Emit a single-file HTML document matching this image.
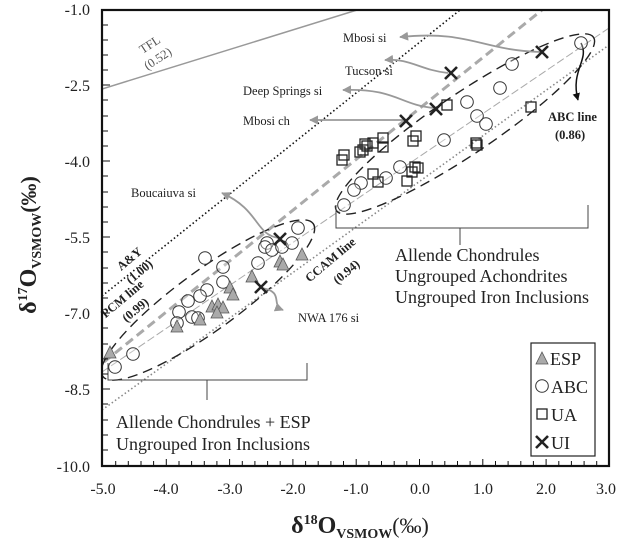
<!DOCTYPE html>
<html><head><meta charset="utf-8"><style>
html,body{margin:0;padding:0;background:#fff}
svg{display:block;font-family:"Liberation Serif",serif}
</style></head><body>
<svg width="625" height="548" viewBox="0 0 625 548" xmlns="http://www.w3.org/2000/svg">
<defs>
<marker id="ga" viewBox="0 0 10 10" refX="9" refY="5" markerWidth="5" markerHeight="5" orient="auto"><path d="M0,0L10,5L0,10z" fill="#999"/></marker>
<marker id="ba" viewBox="0 0 10 10" refX="9" refY="5" markerWidth="5" markerHeight="5" orient="auto"><path d="M0,0L10,5L0,10z" fill="#111"/></marker>
<clipPath id="c"><rect x="102" y="10" width="507" height="456"/></clipPath>
<g id="o"><circle r="6.3" fill="#fff" fill-opacity="0.3" stroke="#333" stroke-width="1"/></g>
<g id="s"><rect x="-5" y="-5" width="10" height="10" fill="none" stroke="#222" stroke-width="1.3"/></g>
<g id="t"><path d="M0,-7L6,5L-6,5z" fill="#aaa" stroke="#555" stroke-width="0.8"/></g>
<g id="x"><path d="M-6,-6L6,6M-6,6L6,-6" stroke="#222" stroke-width="2.6"/></g>
</defs>
<g clip-path="url(#c)">
<line x1="102" y1="89" x2="357" y2="10" stroke="#999" stroke-width="1.5"/>
<line x1="102" y1="296" x2="460" y2="10" stroke="#111" stroke-width="1.6" stroke-dasharray="1.5,2.5"/>
<line x1="104" y1="362" x2="542" y2="10" stroke="#aaa" stroke-width="3" stroke-dasharray="9,5"/>
<line x1="102" y1="372" x2="609" y2="28" stroke="#aaa" stroke-width="1" stroke-dasharray="8,3"/>
<line x1="102" y1="410" x2="609" y2="45" stroke="#888" stroke-width="1.6" stroke-dasharray="1.5,2.5"/>
<ellipse cx="465" cy="124" rx="155" ry="30" transform="rotate(-34 465 124)" fill="none" stroke="#222" stroke-width="1.4" stroke-dasharray="10,6"/>
<ellipse cx="208" cy="300" rx="130" ry="30" transform="rotate(-36 208 300)" fill="none" stroke="#222" stroke-width="1.4" stroke-dasharray="10,6"/>
</g>
<!-- brackets -->
<path d="M108,363 L108,380 L307,380 L307,363 M207,380 L207,400" fill="none" stroke="#444" stroke-width="1"/>
<path d="M336,205 L336,228 L588,228 L588,205 M460,228 L460,245" fill="none" stroke="#444" stroke-width="1"/>
<!-- annotation arrows -->
<g fill="none" stroke="#999" stroke-width="1.8">
<path d="M540,52 C480,50 470,30 400,37" marker-end="url(#ga)"/>
<path d="M448,73 C420,70 410,58 385,60" marker-end="url(#ga)"/>
<path d="M434,108 C400,105 395,88 343,90" marker-end="url(#ga)"/>
<path d="M404,120 L310,120" marker-end="url(#ga)"/>
<path d="M279,238 C255,235 260,210 222,193" marker-end="url(#ga)"/>
<path d="M262,288 C285,292 270,305 283,310" marker-end="url(#ga)"/>
</g>
<path d="M581,43 C590,60 570,70 578,100" fill="none" stroke="#111" stroke-width="1.5" marker-end="url(#ba)"/>
<!-- points lower -->
<g>
<use href="#o" x="298" y="228"/><use href="#o" x="267" y="243"/><use href="#o" x="265" y="247"/><use href="#o" x="272" y="250"/><use href="#o" x="282" y="247"/><use href="#o" x="292" y="243"/><use href="#o" x="258" y="263"/><use href="#o" x="223" y="267"/><use href="#o" x="205" y="258"/><use href="#o" x="223" y="282"/><use href="#o" x="207" y="290"/><use href="#o" x="200" y="296"/><use href="#o" x="188" y="301"/><use href="#o" x="179" y="312"/><use href="#o" x="192" y="317"/><use href="#o" x="198" y="318"/><use href="#o" x="177" y="323"/><use href="#o" x="133" y="354"/><use href="#o" x="115" y="367"/>
<use href="#t" x="110" y="353"/><use href="#t" x="177" y="327"/><use href="#t" x="200" y="320"/><use href="#t" x="212" y="307"/><use href="#t" x="218" y="305"/><use href="#t" x="223" y="308"/><use href="#t" x="217" y="313"/><use href="#t" x="230" y="288"/><use href="#t" x="233" y="295"/><use href="#t" x="252" y="277"/><use href="#t" x="280" y="262"/><use href="#t" x="283" y="265"/><use href="#t" x="302" y="255"/>
<use href="#x" x="280" y="239"/><use href="#x" x="261" y="287"/>
</g>
<!-- points upper -->
<g>
<use href="#o" x="581" y="43"/><use href="#o" x="512" y="64"/><use href="#o" x="500" y="88"/><use href="#o" x="467" y="102"/><use href="#o" x="477" y="116"/><use href="#o" x="486" y="124"/><use href="#o" x="444" y="140"/><use href="#o" x="400" y="167"/><use href="#o" x="386" y="178"/><use href="#o" x="361" y="183"/><use href="#o" x="354" y="190"/><use href="#o" x="344" y="205"/>
<use href="#s" x="447" y="105"/><use href="#s" x="531" y="107"/><use href="#s" x="416" y="136"/><use href="#s" x="413" y="141"/><use href="#s" x="476" y="143"/><use href="#s" x="477" y="145"/><use href="#s" x="383" y="138"/><use href="#s" x="383" y="147"/><use href="#s" x="373" y="143"/><use href="#s" x="367" y="146"/><use href="#s" x="363" y="150"/><use href="#s" x="360" y="152"/><use href="#s" x="365" y="144"/><use href="#s" x="344" y="155"/><use href="#s" x="342" y="160"/><use href="#s" x="415" y="167"/><use href="#s" x="418" y="168"/><use href="#s" x="412" y="172"/><use href="#s" x="373" y="174"/><use href="#s" x="378" y="182"/><use href="#s" x="407" y="181"/>
<use href="#x" x="542" y="52"/><use href="#x" x="451" y="73"/><use href="#x" x="436" y="109"/><use href="#x" x="406" y="121"/>
</g>
<!-- labels -->
<g font-size="12.5" fill="#222">
<text x="343" y="42">Mbosi si</text>
<text x="345" y="75">Tucson si</text>
<text x="243" y="95">Deep Springs si</text>
<text x="243" y="125">Mbosi ch</text>
<text x="131" y="197">Boucaiuva si</text>
<text x="298" y="322">NWA 176 si</text>
<text transform="translate(152,48) rotate(-33)" text-anchor="middle" fill="#555">TFL</text>
<text transform="translate(160,62) rotate(-33)" text-anchor="middle" fill="#555">(0.52)</text>
</g>
<g font-size="12.5" font-weight="bold" fill="#222">
<text x="548" y="121">ABC line</text>
<text x="555" y="139">(0.86)</text>
<text transform="translate(132,262) rotate(-40)" text-anchor="middle">A&amp;Y</text>
<text transform="translate(142,275) rotate(-40)" text-anchor="middle">(1.00)</text>
<text transform="translate(125,302) rotate(-40)" text-anchor="middle">PCM line</text>
<text transform="translate(138,313) rotate(-40)" text-anchor="middle">(0.99)</text>
<text transform="translate(333,263) rotate(-40)" text-anchor="middle">CCAM line</text>
<text transform="translate(349,275) rotate(-40)" text-anchor="middle">(0.94)</text>
</g>
<g font-size="18" fill="#222">
<text x="395" y="261">Allende Chondrules</text>
<text x="395" y="282">Ungrouped Achondrites</text>
<text x="395" y="303">Ungrouped Iron Inclusions</text>
<text x="116" y="428">Allende Chondrules + ESP</text>
<text x="116" y="450">Ungrouped Iron Inclusions</text>
</g>
<!-- legend -->
<rect x="531" y="343" width="64" height="113" fill="#fff" stroke="#222" stroke-width="1.2"/>
<use href="#t" x="542" y="359"/>
<use href="#o" x="542" y="386"/>
<use href="#s" x="542" y="414"/>
<use href="#x" x="542" y="442"/>
<g font-size="18" fill="#222">
<text x="550" y="365">ESP</text>
<text x="551" y="393">ABC</text>
<text x="551" y="421">UA</text>
<text x="551" y="449">UI</text>
</g>
<!-- frame -->
<rect x="102" y="10" width="507" height="456" fill="none" stroke="#111" stroke-width="2.2"/>
<g stroke="#111" stroke-width="1">
<path d="M102,25h6M102,40h6M102,55h6M102,70h6M102,100h6M102,116h6M102,131h6M102,146h6M102,176h6M102,192h6M102,207h6M102,222h6M102,252h6M102,268h6M102,283h6M102,298h6M102,328h6M102,344h6M102,359h6M102,374h6M102,404h6M102,420h6M102,435h6M102,450h6"/>
<path d="M102,85h8M102,161h8M102,237h8M102,313h8M102,389h8"/>
<path d="M115.7,466v-5M128.3,466v-5M141,466v-5M153.6,466v-5M166.3,466v-7M179,466v-5M191.6,466v-5M204.3,466v-5M216.9,466v-5M229.6,466v-7M242.3,466v-5M254.9,466v-5M267.6,466v-5M280.2,466v-5M292.9,466v-7M305.6,466v-5M318.2,466v-5M330.9,466v-5M343.5,466v-5M356.2,466v-7M368.9,466v-5M381.5,466v-5M394.2,466v-5M406.8,466v-5M419.5,466v-7M432.2,466v-5M444.8,466v-5M457.5,466v-5M470.1,466v-5M482.8,466v-7M495.5,466v-5M508.1,466v-5M520.8,466v-5M533.4,466v-5M546.1,466v-7M558.8,466v-5M571.4,466v-5M584.1,466v-5M596.7,466v-5"/>
</g>
<g font-size="16" fill="#222" text-anchor="end">
<text x="90" y="15">-1.0</text><text x="90" y="91">-2.5</text><text x="90" y="167">-4.0</text><text x="90" y="243">-5.5</text><text x="90" y="319">-7.0</text><text x="90" y="395">-8.5</text><text x="90" y="472">-10.0</text>
</g>
<g font-size="16" fill="#222" text-anchor="middle">
<text x="103" y="494">-5.0</text><text x="166" y="494">-4.0</text><text x="230" y="494">-3.0</text><text x="293" y="494">-2.0</text><text x="356" y="494">-1.0</text><text x="420" y="494">0.0</text><text x="483" y="494">1.0</text><text x="546" y="494">2.0</text><text x="606" y="494">3.0</text>
</g>
<text x="360" y="533" text-anchor="middle" font-size="24" font-weight="bold" fill="#222">δ<tspan font-size="14" dy="-9">18</tspan><tspan dy="9">O</tspan><tspan font-size="14" dy="5">VSMOW</tspan><tspan dy="-5" font-weight="normal" font-size="22">(‰)</tspan></text>
<text transform="translate(36,245) rotate(-90)" text-anchor="middle" font-size="24" font-weight="bold" fill="#222">δ<tspan font-size="14" dy="-9">17</tspan><tspan dy="9">O</tspan><tspan font-size="14" dy="5">VSMOW</tspan><tspan dy="-5" font-size="22">(‰)</tspan></text>
</svg>
</body></html>
